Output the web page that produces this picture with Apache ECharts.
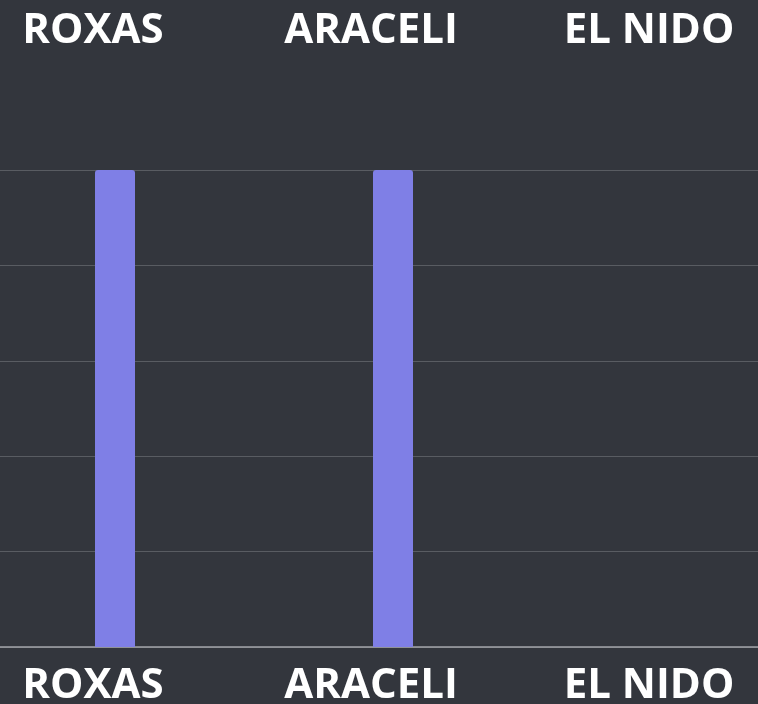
<!DOCTYPE html>
<html>
<head>
<meta charset="utf-8">
<script src="https://cdn.jsdelivr.net/npm/echarts@6/dist/echarts.min.js"></script>
<style>
  html, body { margin: 0; padding: 0; background: #33363d; }
  #chart { width: 758px; height: 704px; }
</style>
</head>
<body>
<div id="chart"></div>
<script>
const towns = ['ROXAS', 'ARACELI', 'EL NIDO'];
const counts = [5, 5, 0];
const yTicks = [0, 1, 2, 3, 4, 5];

const labelStyle = {
  color: '#ffffff',
  fontFamily: 'Open Sans',
  fontWeight: 'bold',
  fontSize: 42,
  verticalAlign: 'middle',
  padding: [0, 44, 0, 0],
  interval: 0,
  showMinLabel: true,
  showMaxLabel: true,
};

const yBase = {
  type: 'value',
  min: yTicks[0],
  max: yTicks[yTicks.length - 1],
  interval: 1,
  axisLabel: { show: false },
  axisLine: { show: false },
  axisTick: { show: false },
};

const chart = echarts.init(document.getElementById('chart'));
chart.setOption({
  backgroundColor: '#33363d',
  animation: false,
  grid: [
    // bars + labels
    { left: 115, right: 87, top: 170, bottom: 57, outerBoundsMode: 'none' },
    // edge-to-edge gridlines and baseline
    { left: 0, right: 0, top: 170, bottom: 57, outerBoundsMode: 'none' },
  ],
  xAxis: [
    {
      type: 'category',
      gridIndex: 0,
      data: towns,
      boundaryGap: false,
      position: 'bottom',
      axisLine: { show: false },
      axisTick: { show: false },
      axisLabel: { ...labelStyle, margin: 39 },
    },
    {
      type: 'category',
      gridIndex: 0,
      data: towns,
      boundaryGap: false,
      position: 'top',
      axisLine: { show: false },
      axisTick: { show: false },
      axisLabel: { ...labelStyle, margin: 139 },
    },
    {
      type: 'category',
      gridIndex: 1,
      data: towns,
      position: 'bottom',
      axisLine: { lineStyle: { color: '#a3a5aa', width: 1.5 } },
      axisTick: { show: false },
      axisLabel: { show: false },
    },
  ],
  yAxis: [
    { ...yBase, gridIndex: 0, splitLine: { show: false } },
    { ...yBase, gridIndex: 1, splitLine: { lineStyle: { color: '#595c62', width: 1 } } },
  ],
  series: [
    {
      type: 'bar',
      xAxisIndex: 0,
      yAxisIndex: 0,
      data: counts,
      barWidth: 40,
      z: 3,
      itemStyle: { color: '#7f7fe6', borderRadius: [3, 3, 0, 0] },
    },
  ],
});
</script>
</body>
</html>
